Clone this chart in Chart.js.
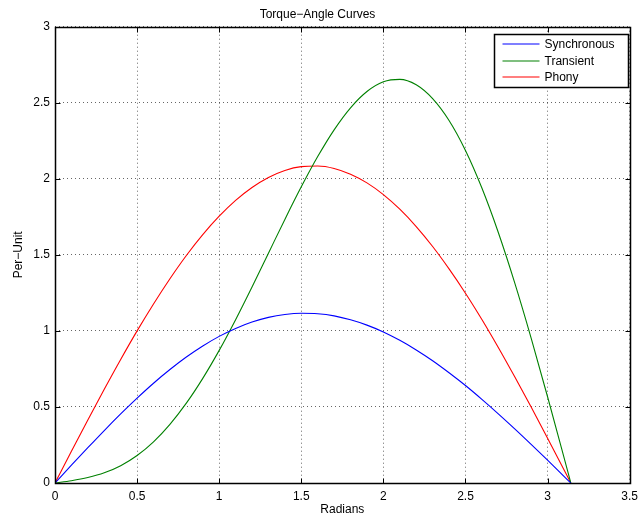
<!DOCTYPE html>
<html>
<head>
<meta charset="utf-8">
<title>Torque-Angle Curves</title>
<script src="https://cdn.jsdelivr.net/npm/chart.js@4.4.1/dist/chart.umd.min.js"></script>
<style>
  html, body { margin: 0; padding: 0; background: #fff; }
  #wrap { width: 644px; height: 523px; }
</style>
</head>
<body>
<div id="wrap"><canvas id="torque" width="644" height="523"></canvas></div>
<script>
// load angle in radians (0 .. pi)
const ANGLES = [0, 0.1, 0.2, 0.3, 0.4, 0.5, 0.6, 0.7, 0.8, 0.9, 1.0, 1.1, 1.2, 1.3, 1.4, 1.5,
  1.6, 1.7, 1.8, 1.9, 2.0, 2.1, 2.2, 2.3, 2.4, 2.5, 2.6, 2.7, 2.8, 2.9, 3.0, 3.1, 3.1416];

// torque in per-unit for each angle above
const SYNCHRONOUS = [0, 0.117, 0.232, 0.345, 0.454, 0.558, 0.656, 0.746, 0.828, 0.901, 0.964,
  1.016, 1.058, 1.089, 1.108, 1.116, 1.113, 1.099, 1.073, 1.038, 0.993, 0.938, 0.875, 0.804,
  0.725, 0.641, 0.550, 0.455, 0.356, 0.254, 0.150, 0.044, 0];
const TRANSIENT = [0, 0.015, 0.036, 0.067, 0.114, 0.181, 0.271, 0.386, 0.525, 0.688, 0.872,
  1.074, 1.289, 1.511, 1.733, 1.947, 2.146, 2.322, 2.467, 2.574, 2.638, 2.654, 2.618, 2.527,
  2.383, 2.186, 1.939, 1.647, 1.316, 0.953, 0.567, 0.168, 0];
const PHONY = [0, 0.208, 0.414, 0.616, 0.812, 1.000, 1.177, 1.343, 1.496, 1.633, 1.754,
  1.858, 1.943, 2.009, 2.055, 2.080, 2.084, 2.068, 2.030, 1.973, 1.896, 1.800, 1.686, 1.555,
  1.408, 1.248, 1.075, 0.891, 0.698, 0.499, 0.294, 0.087, 0];

const SERIES_NAMES = ['Synchronous', 'Transient', 'Phony'];
const SERIES_COLORS = ['#0000ff', '#008000', '#ff0000'];

const X_MIN = 0, X_MAX = 3.5, X_STEP = 0.5;
const Y_MIN = 0, Y_MAX = 3, Y_STEP = 0.5;

const FONT = "'Liberation Sans', Arial, Helvetica, sans-serif";

function toPoints(ys) {
  return ANGLES.map((x, i) => ({ x: x, y: ys[i] }));
}

// matlab style labels: 0, 0.5, 1, 1.5 ...
function tickLabel(v) {
  return String(Math.round(v * 10) / 10);
}

// box around the axes, inward tick marks and the legend inside the plot
const axesFrame = {
  id: 'axesFrame',
  afterDraw(chart) {
    const ctx = chart.ctx;
    const a = chart.chartArea;
    const xs = chart.scales.x, ys = chart.scales.y;
    const L = Math.round(a.left) + 0.5, R = Math.round(a.right) + 0.5;
    const T = Math.round(a.top) + 0.5, B = Math.round(a.bottom) + 0.5;

    ctx.save();
    ctx.strokeStyle = '#000';
    ctx.lineWidth = 1;
    ctx.beginPath();
    xs.ticks.forEach(t => {
      const px = Math.round(xs.getPixelForValue(t.value)) + 0.5;
      ctx.moveTo(px, B); ctx.lineTo(px, B - 5);
      ctx.moveTo(px, T); ctx.lineTo(px, T + 5);
    });
    ys.ticks.forEach(t => {
      const py = Math.round(ys.getPixelForValue(t.value)) + 0.5;
      ctx.moveTo(L, py); ctx.lineTo(L + 5, py);
      ctx.moveTo(R, py); ctx.lineTo(R - 5, py);
    });
    ctx.stroke();

    ctx.lineWidth = 1.5;
    ctx.strokeRect(L, T, R - L, B - T);

    // legend
    const bx = 494.5, by = 34.5, bw = 134, bh = 53;
    ctx.fillStyle = '#fff';
    ctx.fillRect(bx, by, bw, bh);
    ctx.strokeRect(bx, by, bw, bh);
    ctx.font = '12px ' + FONT;
    ctx.textBaseline = 'middle';
    ctx.textAlign = 'left';
    chart.data.datasets.forEach((ds, i) => {
      const y = Math.round(by + 9.5 + i * 16.7);
      ctx.strokeStyle = ds.borderColor;
      ctx.lineWidth = 1.2;
      ctx.beginPath();
      ctx.moveTo(bx + 8, y);
      ctx.lineTo(bx + 45, y);
      ctx.stroke();
      ctx.fillStyle = '#000';
      ctx.fillText(ds.label, bx + 50, y + 0.5);
    });
    ctx.restore();
  }
};

const gridStyle = {
  color: 'rgba(0,0,0,0.6)',
  lineWidth: 1,
  drawTicks: false
};

new Chart(document.getElementById('torque'), {
  type: 'scatter',
  data: {
    datasets: [SYNCHRONOUS, TRANSIENT, PHONY].map((ys, i) => ({
      label: SERIES_NAMES[i],
      data: toPoints(ys),
      showLine: true,
      borderColor: SERIES_COLORS[i],
      backgroundColor: SERIES_COLORS[i],
      borderWidth: 1.1,
      pointRadius: 0,
      cubicInterpolationMode: 'monotone'
    }))
  },
  options: {
    responsive: false,
    animation: false,
    layout: { padding: { top: 0, right: 9, bottom: 0, left: 0 } },
    plugins: {
      legend: { display: false },
      tooltip: { enabled: false },
      title: {
        display: true,
        text: 'Torque\u2212Angle Curves',
        color: '#000',
        font: { family: FONT, size: 12, weight: 'normal', lineHeight: 1.2 },
        padding: { top: 7, bottom: 5.3 }
      }
    },
    scales: {
      x: {
        type: 'linear',
        min: X_MIN, max: X_MAX,
        ticks: {
          stepSize: X_STEP, color: '#000', padding: 6, maxRotation: 0,
          font: { family: FONT, size: 12 },
          callback: tickLabel
        },
        grid: gridStyle,
        border: { display: false, dash: [1, 3] },
        title: {
          display: true, text: 'Radians', color: '#000',
          font: { family: FONT, size: 12, lineHeight: 1.2 },
          padding: { top: 0, bottom: 6 }
        },
        afterFit(scale) { scale.height = 40; }
      },
      y: {
        type: 'linear',
        min: Y_MIN, max: Y_MAX,
        ticks: {
          stepSize: Y_STEP, color: '#000', padding: 5,
          font: { family: FONT, size: 12 },
          callback: tickLabel
        },
        grid: gridStyle,
        border: { display: false, dash: [1, 3] },
        title: {
          display: true, text: 'Per\u2212Unit', color: '#000',
          font: { family: FONT, size: 12, lineHeight: 1.2 },
          padding: { top: 11, bottom: 0 }
        },
        afterFit(scale) { scale.width = 55; }
      }
    }
  },
  plugins: [axesFrame]
});
</script>
</body>
</html>
